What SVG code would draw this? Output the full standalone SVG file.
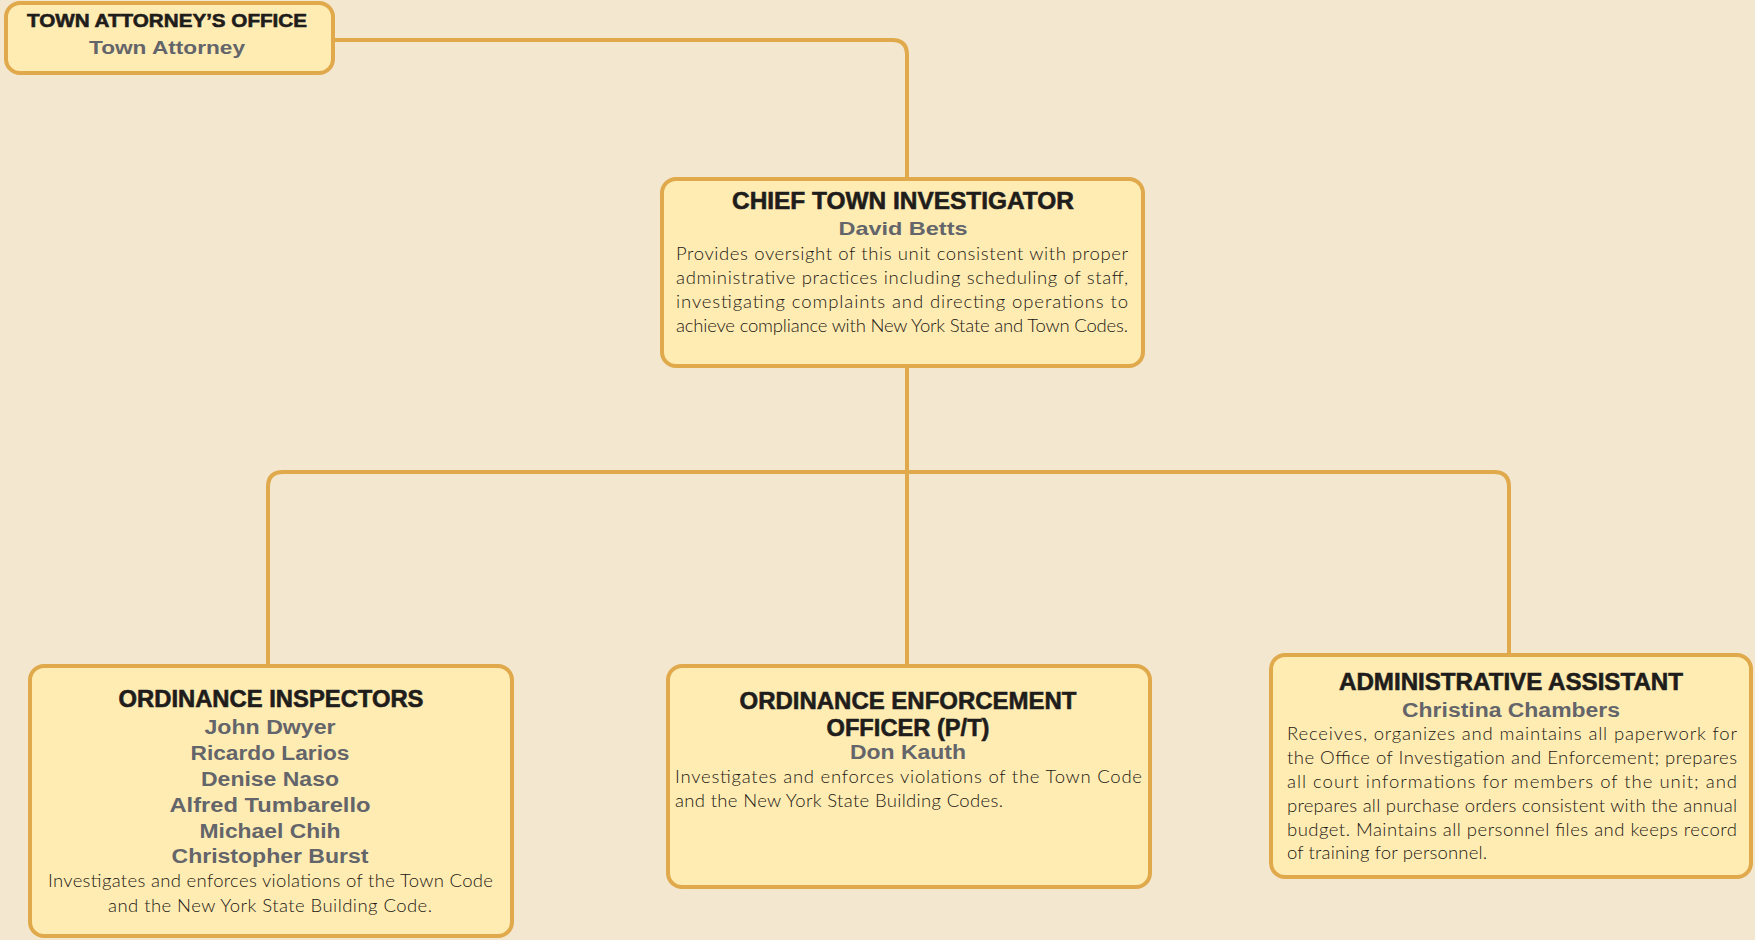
<svg xmlns="http://www.w3.org/2000/svg" width="1755" height="940" viewBox="0 0 1755 940">
<style>
.bg{fill:#f3e7d0}
.box{fill:#ffecb3;stroke:#e0a94b;stroke-width:4}
.conn{fill:none;stroke:#e0a94b;stroke-width:4}
.title{font-family:"Liberation Sans",Arial,sans-serif;font-weight:bold;fill:#1f1d1b;stroke:#1f1d1b;stroke-width:0.6;text-anchor:middle}
.name{font-family:"Liberation Sans",Arial,sans-serif;font-weight:bold;fill:#63656a;text-anchor:middle}
.body{font-family:Lato,"Liberation Sans",sans-serif;font-weight:300;font-size:18.5px;fill:#1c1814}
</style>
<rect class="bg" x="0" y="0" width="1755" height="940"/>
<g id="connectors">
<path class="conn" d="M335,40 H892 Q907,40 907,55 V179"/>
<path class="conn" d="M907,366 V665"/>
<path class="conn" d="M268,665 V487 Q268,472 283,472 H1494 Q1509,472 1509,487 V654"/>
</g>
<g id="town-attorney">
<rect class="box" x="6" y="3" width="327" height="70" rx="14"/>
<text class="title" x="167" y="27" font-size="19" textLength="280" lengthAdjust="spacingAndGlyphs">TOWN ATTORNEY’S OFFICE</text>
<text class="name" x="167" y="54" font-size="19" textLength="156" lengthAdjust="spacingAndGlyphs">Town Attorney</text>
</g>
<g id="chief">
<rect class="box" x="662" y="179" width="481" height="187" rx="14"/>
<text class="title" x="903" y="209" font-size="24" textLength="342" lengthAdjust="spacingAndGlyphs">CHIEF TOWN INVESTIGATOR</text>
<text class="name" x="903" y="235" font-size="19" textLength="129" lengthAdjust="spacingAndGlyphs">David Betts</text>
<text class="body" x="676" y="260" textLength="452" lengthAdjust="spacing">Provides oversight of this unit consistent with proper</text>
<text class="body" x="676" y="284" textLength="452" lengthAdjust="spacing">administrative practices including scheduling of staff,</text>
<text class="body" x="676" y="308" textLength="452" lengthAdjust="spacing">investigating complaints and directing operations to</text>
<text class="body" x="676" y="332" textLength="452" lengthAdjust="spacing">achieve compliance with New York State and Town Codes.</text>
</g>
<g id="ordinance-inspectors">
<rect class="box" x="30" y="666" width="482" height="270" rx="14"/>
<text class="title" x="271" y="707" font-size="23" textLength="305" lengthAdjust="spacingAndGlyphs">ORDINANCE INSPECTORS</text>
<text class="name" x="270" y="734" font-size="20" textLength="131" lengthAdjust="spacingAndGlyphs">John Dwyer</text>
<text class="name" x="270" y="760" font-size="20" textLength="159" lengthAdjust="spacingAndGlyphs">Ricardo Larios</text>
<text class="name" x="270" y="786" font-size="20" textLength="138" lengthAdjust="spacingAndGlyphs">Denise Naso</text>
<text class="name" x="270" y="812" font-size="20" textLength="201" lengthAdjust="spacingAndGlyphs">Alfred Tumbarello</text>
<text class="name" x="270" y="838" font-size="20" textLength="141" lengthAdjust="spacingAndGlyphs">Michael Chih</text>
<text class="name" x="270" y="863" font-size="20" textLength="197" lengthAdjust="spacingAndGlyphs">Christopher Burst</text>
<text class="body" x="48" y="887" textLength="445" lengthAdjust="spacing">Investigates and enforces violations of the Town Code</text>
<text class="body" x="270" y="912" text-anchor="middle" textLength="324" lengthAdjust="spacing">and the New York State Building Code.</text>
</g>
<g id="enforcement-officer">
<rect class="box" x="668" y="666" width="482" height="221" rx="14"/>
<text class="title" x="908" y="709" font-size="24" textLength="337" lengthAdjust="spacingAndGlyphs">ORDINANCE ENFORCEMENT</text>
<text class="title" x="908" y="736" font-size="24" textLength="163" lengthAdjust="spacingAndGlyphs">OFFICER (P/T)</text>
<text class="name" x="908" y="759" font-size="20" textLength="116" lengthAdjust="spacingAndGlyphs">Don Kauth</text>
<text class="body" x="675" y="783" textLength="467" lengthAdjust="spacing">Investigates and enforces violations of the Town Code</text>
<text class="body" x="675" y="807" textLength="328" lengthAdjust="spacing">and the New York State Building Codes.</text>
</g>
<g id="admin-assistant">
<rect class="box" x="1271" y="655" width="480" height="222" rx="14"/>
<text class="title" x="1511" y="690" font-size="24" textLength="344" lengthAdjust="spacingAndGlyphs">ADMINISTRATIVE ASSISTANT</text>
<text class="name" x="1511" y="717" font-size="20" textLength="218" lengthAdjust="spacingAndGlyphs">Christina Chambers</text>
<text class="body" x="1287" y="740" textLength="450" lengthAdjust="spacing">Receives, organizes and maintains all paperwork for</text>
<text class="body" x="1287" y="764" textLength="450" lengthAdjust="spacing">the Office of Investigation and Enforcement; prepares</text>
<text class="body" x="1287" y="788" textLength="450" lengthAdjust="spacing">all court informations for members of the unit; and</text>
<text class="body" x="1287" y="812" textLength="450" lengthAdjust="spacing">prepares all purchase orders consistent with the annual</text>
<text class="body" x="1287" y="836" textLength="450" lengthAdjust="spacing">budget.  Maintains all personnel files and keeps record</text>
<text class="body" x="1287" y="859" textLength="200" lengthAdjust="spacing">of training for personnel.</text>
</g>
</svg>
